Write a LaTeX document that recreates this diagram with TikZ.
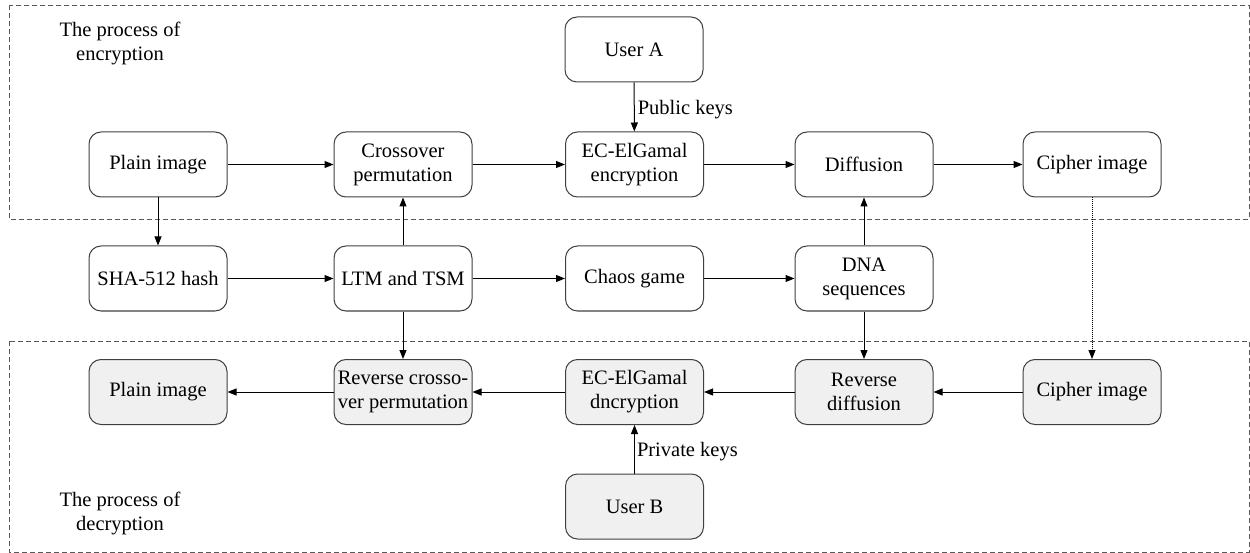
\documentclass[tikz,border=0pt]{standalone}
\usepackage{fontspec}
\setmainfont{Liberation Serif}
\newfontfamily\tnrfont{Liberation Serif}
\usetikzlibrary{arrows.meta}
\begin{document}
\begin{tikzpicture}[x=1pt,y=-1pt,
  every node/.style={font=\tnrfont\fontsize{20.5}{24}\selectfont},
  boxnode/.style={draw=black!75, line width=1pt, rounded corners=12pt, minimum width=138pt, minimum height=65pt, align=center, inner sep=0pt, fill=white},
  decnode/.style={boxnode, fill=black!6},
  arr/.style={-{Triangle[length=9pt,width=7pt]}, line width=1pt, black},
  region/.style={draw=black!65, line width=0.9pt, dash pattern=on 5pt off 3pt},
  lbl/.style={align=center, inner sep=0pt}
]
\useasboundingbox (0,0) rectangle (1250,553);
% regions
\draw[region] (9,5) rectangle (1249,219);
\draw[region] (9,341) rectangle (1249,552);
\node[lbl] (enctxt) at (120,43) {The process of\\encryption};
\node[lbl] (dectxt) at (120,513) {The process of\\decryption};
% row A
\node[boxnode] (ua) at (634,49.5) {User A};
% row 2
\node[boxnode] (pi) at (158,164.5) {Plain image};
\node[boxnode] (cp) at (403,164.5) {Crossover\\permutation};
\node[boxnode] (enc) at (634.5,164.5) {EC-ElGamal\\encryption};
\node[boxnode] (dif) at (864,164.5) {Diffusion};
\node[boxnode] (ci) at (1092,164.5) {Cipher image};
% row 3
\node[boxnode] (sha) at (158,278.5) {SHA-512 hash};
\node[boxnode] (ltm) at (403,278.5) {LTM and TSM};
\node[boxnode] (chg) at (634.5,278.5) {Chaos game};
\node[boxnode] (dna) at (864,278.5) {DNA\\sequences};
% row 4
\node[decnode] (pi2) at (158,392) {Plain image};
\node[decnode] (rcp) at (403,392) {Reverse crosso-\\ver permutation};
\node[decnode] (dec) at (634.5,392) {EC-ElGamal\\dncryption};
\node[decnode] (rdif) at (864,392) {Reverse\\diffusion};
\node[decnode] (ci2) at (1092,392) {Cipher image};
% row 5
\node[decnode] (ub) at (634.5,506.5) {User B};
% connectors
\draw[arr] (pi) -- (cp);
\draw[arr] (cp) -- (enc);
\draw[arr] (enc) -- (dif);
\draw[arr] (dif) -- (ci);
\draw[arr] (ua) -- node[right=2pt, inner sep=1pt, pos=0.55] {Public keys} (enc);
\draw[arr] (pi) -- (sha);
\draw[arr] (sha) -- (ltm);
\draw[arr] (ltm) -- (cp);
\draw[arr] (ltm) -- (chg);
\draw[arr] (chg) -- (dna);
\draw[arr] (dna) -- (dif);
\draw[arr] (ltm) -- (rcp);
\draw[arr] (dna) -- (rdif);
\draw[arr, densely dotted] (ci) -- (ci2);
\draw[arr] (ci2) -- (rdif);
\draw[arr] (rdif) -- (dec);
\draw[arr] (dec) -- (rcp);
\draw[arr] (rcp) -- (pi2);
\draw[arr] (ub) -- node[right=1pt, inner sep=1pt, pos=0.45] {Private keys} (dec);
\end{tikzpicture}
\end{document}
